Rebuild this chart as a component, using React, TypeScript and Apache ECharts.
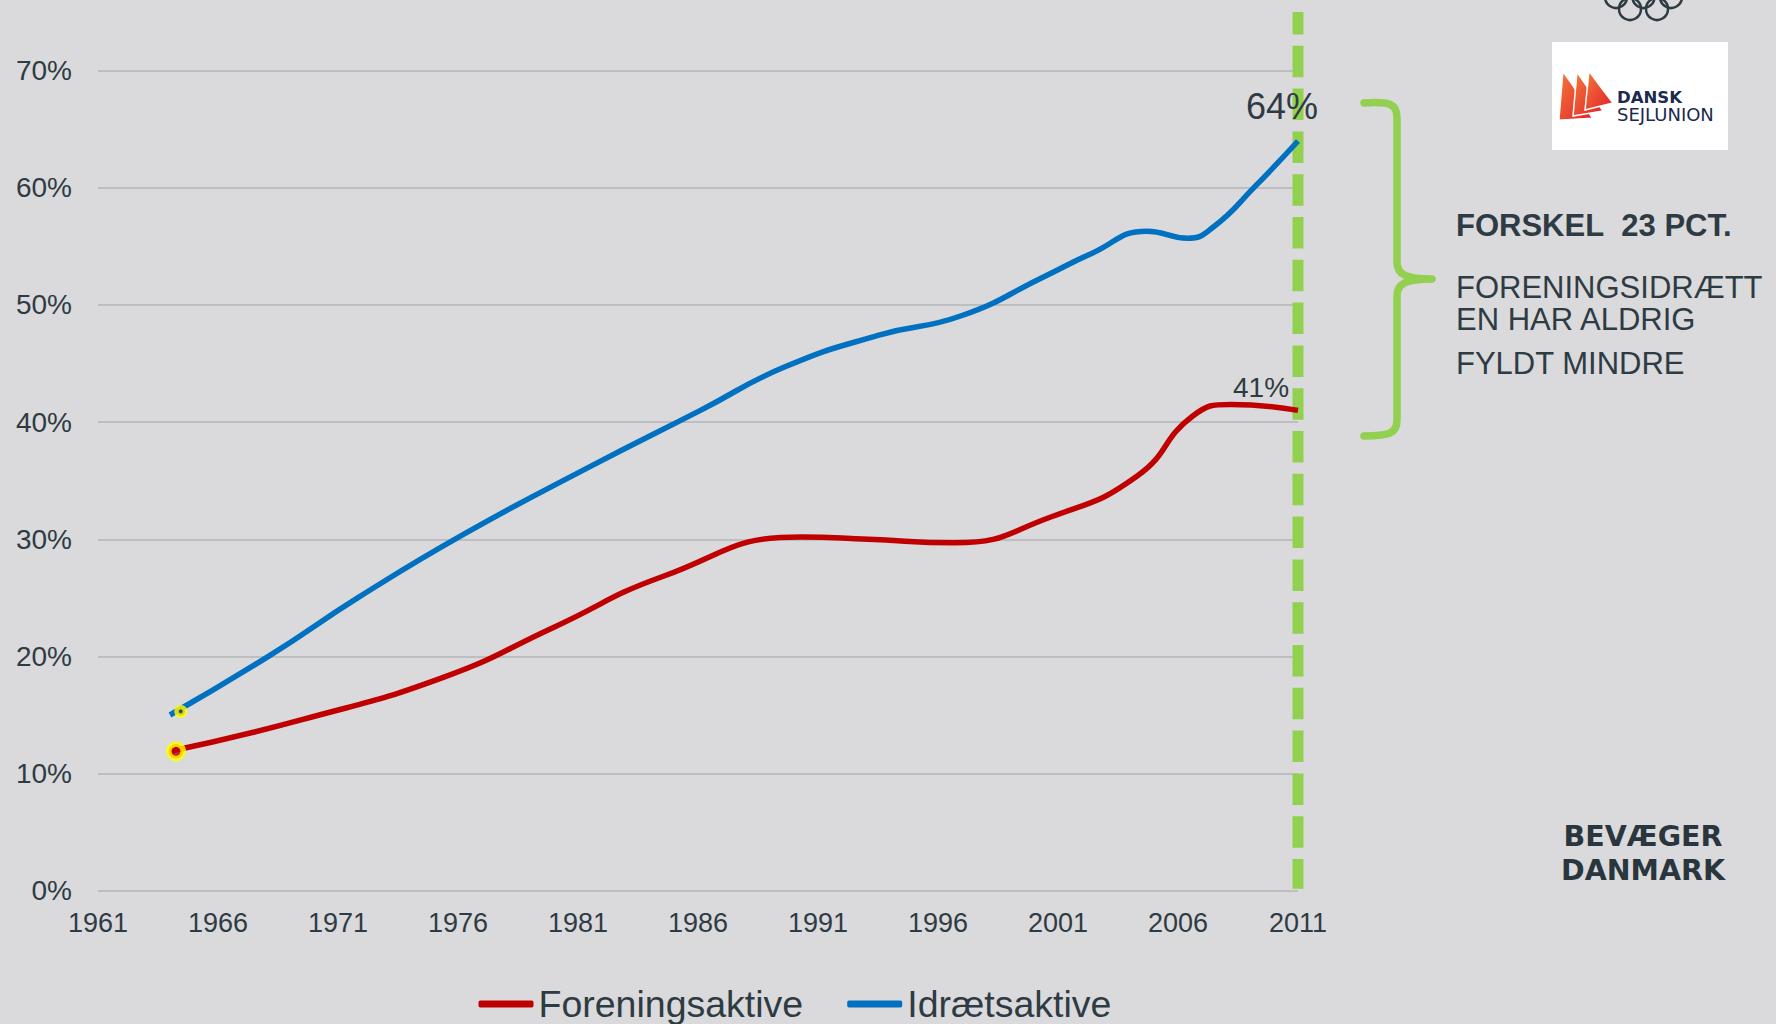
import React, { useEffect, useRef } from "react";
import * as echarts from "echarts";

// ---------- data ----------
const foreningsYears = [1964, 1969.5, 1975.5, 1980, 1984.5, 1990.3, 1993.1, 1996.7, 2000.7, 2004.3, 2006.6, 2008.2, 2011];
const foreningsaktive = [11.9, 14.6, 18.3, 22.5, 26.8, 30.2, 30.0, 29.7, 31.9, 35.4, 40.5, 41.5, 41.0];
const idraetsYears = [1964, 1968.1, 1971.9, 1976.3, 1981.5, 1986.1, 1989.6, 1993.5, 1997.0, 2000.5, 2002.4, 2004.7, 2006.4, 2007.5, 2009.2, 2011];
const idraetsaktive = [15.0, 20.0, 25.1, 30.5, 36.2, 41.0, 44.7, 47.4, 49.1, 52.5, 54.4, 56.3, 55.7, 56.7, 60.1, 64.0];
const seriesNames = ["Foreningsaktive", "Idrætsaktive"];
const xRange = [1961, 2011];
const xStep = 5;
const yRange = [0, 70];
const yStep = 10;
const startMarkerRed = [1964.25, 11.9];
const startMarkerBlue = [1964.45, 15.3];
const endLabels = ["41%", "64%"];
const headline = "FORSKEL\u00a0\u00a023 PCT.";
const bodyLines = ["FORENINGSIDRÆTT", "EN HAR ALDRIG", "FYLDT MINDRE"];
const brandLines = ["BEVÆGER", "DANMARK"];
const logoWords = ["DANSK", "SEJLUNION"];

// ---------- styles ----------
const RED = "#C00000";
const BLUE = "#0070C0";
const GREEN = "#92D050";
const YELLOW = "#FFFF00";
const TEXT = "#2f3b43";
const BG = "#DADADC";
const GRID = "#BCBEC0";
const FONT = "'Liberation Sans', Arial, sans-serif";

const braceD =
  "M1364,103 C1390,101 1397,104 1397,118 L1397,262 C1397,274 1405,279 1432,279 C1405,279 1397,284 1397,296 L1397,420 C1397,433 1390,436 1364,436";
echarts.graphic.registerShape("brace", echarts.graphic.extendPath(braceD, {}));

export default function App() {
  const ref = useRef<HTMLDivElement>(null);

  useEffect(() => {
    document.body.style.margin = "0";
    const chart = echarts.init(ref.current!, null, { renderer: "svg" });
    chart.setOption({
      animation: false,
      backgroundColor: BG,
      textStyle: { fontFamily: FONT, color: TEXT },
      grid: { left: 98, right: 478, top: 70.7, bottom: 133.3, containLabel: false },
      legend: {
        data: seriesNames,
        left: 473.5,
        top: 980,
        itemWidth: 55,
        itemHeight: 7,
        itemGap: 44,
        icon: "roundRect",
        textStyle: { fontSize: 37.5, color: TEXT, fontFamily: FONT },
      },
      xAxis: {
        type: "value",
        min: xRange[0],
        max: xRange[1],
        interval: xStep,
        axisLine: { show: false },
        axisTick: { show: false },
        splitLine: { show: false },
        axisLabel: {
          fontSize: 27,
          color: TEXT,
          margin: 19,
          fontFamily: FONT,
          formatter: (v: number) => String(v),
        },
      },
      yAxis: {
        type: "value",
        min: yRange[0],
        max: yRange[1],
        interval: yStep,
        axisLine: { show: false },
        axisTick: { show: false },
        splitLine: { lineStyle: { color: GRID, width: 2 } },
        axisLabel: { fontSize: 28, color: TEXT, margin: 26, formatter: "{value}%", fontFamily: FONT },
      },
      series: [
        {
          name: seriesNames[0],
          type: "line",
          data: foreningsYears.map((y, i) => [y, foreningsaktive[i]]),
          smooth: 0.5,
          showSymbol: false,
          lineStyle: { width: 5.5, color: RED },
          itemStyle: { color: RED },
          z: 3,
        },
        {
          name: seriesNames[1],
          type: "line",
          data: idraetsYears.map((y, i) => [y, idraetsaktive[i]]),
          smooth: 0.5,
          showSymbol: false,
          lineStyle: { width: 5.5, color: BLUE },
          itemStyle: { color: BLUE },
          z: 3,
        },
        {
          type: "scatter",
          data: [startMarkerRed],
          symbolSize: 14.5,
          itemStyle: { color: RED, borderColor: YELLOW, borderWidth: 5.5 },
          z: 5,
        },
        {
          type: "scatter",
          data: [startMarkerBlue],
          symbolSize: 8.5,
          itemStyle: { color: TEXT, borderColor: YELLOW, borderWidth: 4.5 },
          z: 5,
        },
      ],
    });

    const px = (x: number, y: number) =>
      chart.convertToPixel({ gridIndex: 0 }, [x, y]) as number[];
    const rl = foreningsYears.length - 1;
    const bl = idraetsYears.length - 1;
    const [gx, gy0] = px(xRange[1], yRange[0]);
    const redEnd = px(foreningsYears[rl], foreningsaktive[rl]);
    const blueEnd = px(idraetsYears[bl], idraetsaktive[bl]);

    const sailGrad = () =>
      new echarts.graphic.LinearGradient(0, 0, 1, 1, [
        { offset: 0, color: "#F47A3A" },
        { offset: 1, color: "#E2202A" },
      ]);
    const logoFont = "'DejaVu Sans', sans-serif";

    const graphic: any[] = [
      {
        type: "line",
        z: 1,
        shape: { x1: gx, y1: 12, x2: gx, y2: gy0 - 2 },
        style: { stroke: GREEN, lineWidth: 11, lineDash: [31.5, 11.3], lineDashOffset: 9.3 },
      },
      {
        type: "text",
        z: 10,
        x: blueEnd[0] - 16,
        y: blueEnd[1] - 34,
        style: { text: endLabels[1], fontSize: 36, fill: TEXT, align: "center", verticalAlign: "middle", fontFamily: FONT },
      },
      {
        type: "text",
        z: 10,
        x: redEnd[0] - 37,
        y: redEnd[1] - 23,
        style: { text: endLabels[0], fontSize: 28, fill: TEXT, align: "center", verticalAlign: "middle", fontFamily: FONT },
      },
      {
        type: "brace",
        x: 0,
        y: 0,
        scaleX: 1,
        scaleY: 1,
        style: { stroke: GREEN, lineWidth: 7.5, fill: "none", lineCap: "round", lineJoin: "round" },
      },
      {
        type: "text",
        x: 1456,
        y: 225,
        style: { text: headline, fontSize: 31, fontWeight: "bold", fill: TEXT, verticalAlign: "middle", fontFamily: FONT },
      },
      {
        type: "text",
        x: 1456,
        y: 287.5,
        style: { text: bodyLines[0], fontSize: 31, fill: TEXT, verticalAlign: "middle", fontFamily: FONT },
      },
      {
        type: "text",
        x: 1456,
        y: 319,
        style: { text: bodyLines[1], fontSize: 31, fill: TEXT, verticalAlign: "middle", fontFamily: FONT },
      },
      {
        type: "text",
        x: 1456,
        y: 363.5,
        style: { text: bodyLines[2], fontSize: 31, fill: TEXT, verticalAlign: "middle", fontFamily: FONT },
      },
      {
        type: "text",
        x: 1643,
        y: 836,
        style: { text: brandLines[0], fontSize: 28.5, fontWeight: "bold", fill: "#2a363d", align: "center", verticalAlign: "middle", fontFamily: logoFont },
      },
      {
        type: "text",
        x: 1643,
        y: 870,
        style: { text: brandLines[1], fontSize: 28.5, fontWeight: "bold", fill: "#2a363d", align: "center", verticalAlign: "middle", fontFamily: logoFont },
      },
      // logo box
      { type: "rect", shape: { x: 1552, y: 42, width: 176, height: 108 }, style: { fill: "#FFFFFF" } },
      {
        type: "polygon",
        shape: { points: [[1559, 120], [1563, 72], [1573, 86], [1592, 118]] },
        style: { fill: sailGrad(), stroke: "#FFFFFF", lineWidth: 1.2 },
      },
      {
        type: "polygon",
        shape: { points: [[1573, 116], [1577, 72], [1588, 88], [1603, 111]] },
        style: { fill: sailGrad(), stroke: "#FFFFFF", lineWidth: 1.5 },
      },
      {
        type: "polygon",
        shape: { points: [[1585, 110], [1589, 71], [1600, 86], [1613, 103]] },
        style: { fill: sailGrad(), stroke: "#FFFFFF", lineWidth: 1.5 },
      },
      {
        type: "text",
        x: 1617,
        y: 97,
        style: { text: logoWords[0], fontSize: 16.5, fontWeight: "bold", fill: "#1b2a4e", verticalAlign: "middle", fontFamily: logoFont },
      },
      {
        type: "text",
        x: 1617,
        y: 114,
        style: { text: logoWords[1], fontSize: 18, fill: "#1b2a4e", verticalAlign: "middle", fontFamily: logoFont },
      },
      // olympic rings
      ...[
        [1616, -3],
        [1643.5, -3],
        [1671, -3],
        [1630, 9],
        [1657, 9],
      ].map(([cx, cy]) => ({
        type: "circle",
        shape: { cx, cy, r: 11 },
        style: { stroke: TEXT, lineWidth: 2.5, fill: "none" },
      })),
    ];
    chart.setOption({ graphic });

    return () => chart.dispose();
  }, []);

  return (
    <div
      ref={ref}
      style={{ position: "absolute", left: 0, top: 0, width: 1776, height: 1024 }}
    />
  );
}
